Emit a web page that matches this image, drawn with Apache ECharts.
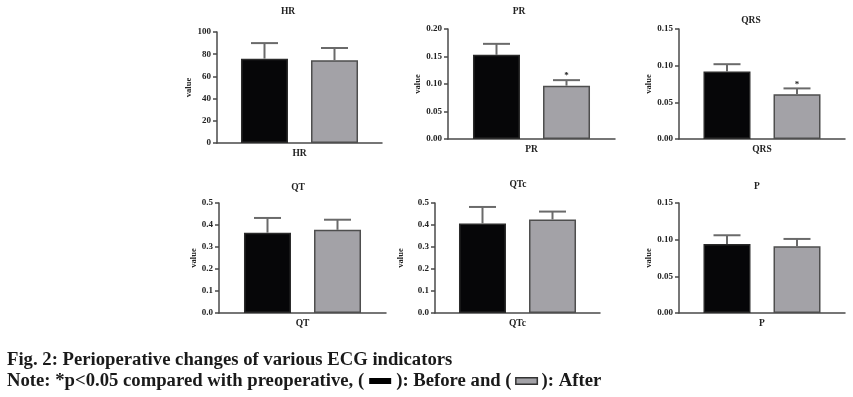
<!DOCTYPE html>
<html>
<head>
<meta charset="utf-8">
<script src="https://cdn.jsdelivr.net/npm/echarts@6/dist/echarts.min.js"></script>
<style>
html, body { margin: 0; padding: 0; background: #fff; }
#chart { width: 853px; height: 397px; }
</style>
</head>
<body>
<div id="chart"></div>
<script>
// indicators (one panel each)
var indicators = ["HR", "PR", "QRS", "QT", "QTc", "P"];
// mean values
var beforeMean = [76, 0.153, 0.092, 0.365, 0.407, 0.094];
var afterMean = [74.6, 0.097, 0.061, 0.378, 0.425, 0.091];
// error bars (upper part only)
var beforeErr = [14, 0.020, 0.010, 0.067, 0.075, 0.012];
var afterErr = [11, 0.010, 0.008, 0.046, 0.036, 0.010];
// * p<0.05 marks on the "after" bar
var afterSig = [0, 1, 1, 0, 0, 0];
// y axis scales
var yMax = [100, 0.20, 0.15, 0.5, 0.5, 0.15];
var yStep = [20, 0.05, 0.05, 0.1, 0.1, 0.05];
var yDigits = [0, 2, 2, 1, 1, 2];

// layout of the six panels
var grids = [
  { left: 217, top: 32, width: 165, height: 111 },
  { left: 448, top: 29, width: 167, height: 110 },
  { left: 679, top: 29, width: 166, height: 110 },
  { left: 219, top: 203, width: 167, height: 110 },
  { left: 435, top: 203, width: 165, height: 110 },
  { left: 679, top: 203, width: 166, height: 110 }
];
var titlePos = [[288, 12], [519, 12], [751, 21], [298, 188], [518, 185], [757, 187]];
var nameGaps = [23, 23, 25, 20, 30, 25];

var FONT = '"Liberation Serif", "DejaVu Serif", serif';
var AXIS = "#4a4a4a";
var BAR_W = 47;
var HALF_STEP = 35; // distance from category centre to each bar centre

function renderErr(params, api) {
  var val = api.value(1), err = api.value(2), side = api.value(3), sig = api.value(4);
  var base = api.coord([0, val]);
  var top = api.coord([0, val + err]);
  var x = base[0] + side * HALF_STEP;
  var kids = [
    { type: "line", shape: { x1: x, y1: base[1], x2: x, y2: top[1] }, style: { stroke: "#6a6a6a", lineWidth: 2 } },
    { type: "line", shape: { x1: x - 13.5, y1: top[1], x2: x + 13.5, y2: top[1] }, style: { stroke: "#6a6a6a", lineWidth: 2 } }
  ];
  if (sig) {
    kids.push({
      type: "text",
      style: { text: "*", x: x, y: top[1] - 4, align: "center", verticalAlign: "middle", font: "bold 9px " + FONT, fill: "#222" }
    });
  }
  return { type: "group", children: kids };
}

var grid = [], xAxis = [], yAxis = [], series = [], graphic = [];

for (var i = 0; i < indicators.length; i++) {
  grid.push(grids[i]);
  xAxis.push({
    type: "category",
    gridIndex: i,
    data: [indicators[i]],
    axisLine: { lineStyle: { color: AXIS, width: 1.5 } },
    axisTick: { alignWithLabel: true, length: 4, lineStyle: { color: AXIS, width: 1.5 } },
    axisLabel: { margin: 6, fontFamily: FONT, fontWeight: "bold", fontSize: 9.5, color: "#222" }
  });
  (function (d) {
    yAxis.push({
      type: "value",
      gridIndex: i,
      min: 0,
      max: yMax[i],
      interval: yStep[i],
      name: "value",
      nameLocation: "middle",
      nameRotate: 90,
      nameGap: nameGaps[i],
      nameTextStyle: { fontFamily: FONT, fontWeight: "bold", fontSize: 8.5, color: "#222" },
      splitLine: { show: false },
      axisLine: { show: true, lineStyle: { color: AXIS, width: 1.5 } },
      axisTick: { show: true, length: 4, lineStyle: { color: AXIS, width: 1.5 } },
      axisLabel: {
        margin: 6, fontFamily: FONT, fontWeight: "bold", fontSize: 9, color: "#222",
        formatter: function (v) { return v.toFixed(d); }
      }
    });
  })(yDigits[i]);
  series.push({
    name: "Before",
    type: "bar",
    xAxisIndex: i,
    yAxisIndex: i,
    barWidth: BAR_W,
    barGap: "49%",
    data: [beforeMean[i]],
    itemStyle: { color: "#060608", borderColor: "#2a2a2a", borderWidth: 1.5 },
    z: 2
  });
  series.push({
    name: "After",
    type: "bar",
    xAxisIndex: i,
    yAxisIndex: i,
    barWidth: BAR_W,
    data: [afterMean[i]],
    itemStyle: { color: "#a3a2a7", borderColor: "#4e4e4e", borderWidth: 1.5 },
    z: 2
  });
  series.push({
    type: "custom",
    xAxisIndex: i,
    yAxisIndex: i,
    renderItem: renderErr,
    encode: { x: 0, y: 1 },
    data: [
      [0, beforeMean[i], beforeErr[i], -1, 0],
      [0, afterMean[i], afterErr[i], 1, afterSig[i]]
    ],
    z: 3,
    silent: true
  });
  graphic.push({
    type: "text",
    x: titlePos[i][0],
    y: titlePos[i][1],
    style: { text: indicators[i], align: "center", verticalAlign: "middle", font: "bold 9.5px " + FONT, fill: "#222" }
  });
}

// figure caption
graphic.push({
  type: "text",
  x: 7,
  y: 360,
  style: { text: "Fig. 2: Perioperative changes of various ECG indicators", align: "left", verticalAlign: "middle", font: "bold 18.7px " + FONT, fill: "#1a1a1a" }
});
graphic.push({
  type: "text",
  x: 7,
  y: 381,
  style: {
    text: "Note: *p<0.05 compared with preoperative, ({sp|}{bk|}{sp|}): Before and ({sp|}{gy|}{sp|}): After",
    align: "left",
    verticalAlign: "middle",
    font: "bold 18.7px " + FONT,
    fill: "#1a1a1a",
    rich: {
      sp: { width: 5, height: 6 },
      bk: { width: 22, height: 6, backgroundColor: "#000" },
      gy: { width: 20, height: 5, backgroundColor: "#a3a2a7", borderColor: "#333", borderWidth: 1.5 }
    }
  }
});

var myChart = echarts.init(document.getElementById("chart"));
myChart.setOption({
  animation: false,
  grid: grid,
  xAxis: xAxis,
  yAxis: yAxis,
  series: series,
  graphic: graphic
});
</script>
</body>
</html>
